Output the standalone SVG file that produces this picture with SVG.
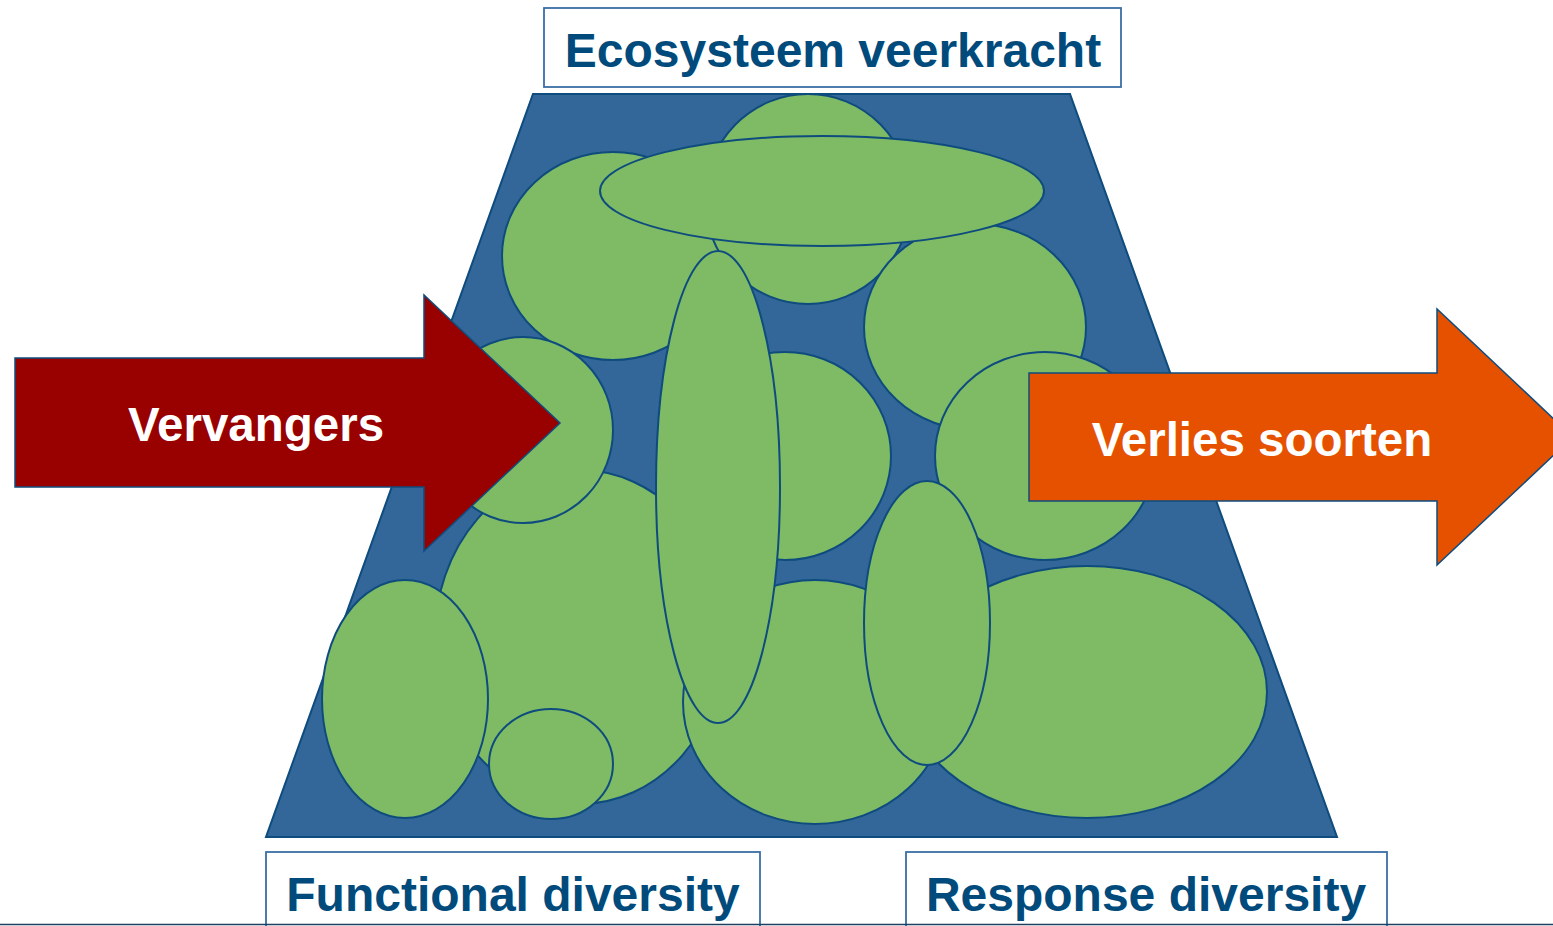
<svg xmlns="http://www.w3.org/2000/svg" width="1553" height="926" viewBox="0 0 1553 926">
<style>
.blob{fill:#7fba65;stroke:#0f4c7e;stroke-width:2}
.lbl{fill:#ffffff;stroke:#3a6ea5;stroke-width:1.8}
.lt{font-family:"Liberation Sans",Arial,sans-serif;font-weight:bold;font-size:48px;fill:#004b7c;text-anchor:middle}
.at{font-family:"Liberation Sans",Arial,sans-serif;font-weight:bold;font-size:47.5px;fill:#ffffff;text-anchor:middle}
</style>
<rect width="1553" height="926" fill="#ffffff"/>
<g id="trapezoid">
<polygon points="533,94 1070,94 1337,837 266,837" fill="#336699" stroke="#0f4c7e" stroke-width="2"/>
</g>
<g id="species">
<ellipse class="blob" cx="613" cy="256" rx="111" ry="104"/>
<ellipse class="blob" cx="808" cy="199" rx="103" ry="105"/>
<ellipse class="blob" cx="975" cy="327" rx="111" ry="103"/>
<ellipse class="blob" cx="822" cy="191" rx="222" ry="55"/>
<ellipse class="blob" cx="785" cy="456" rx="106" ry="104"/>
<ellipse class="blob" cx="1045" cy="456" rx="110" ry="104"/>
<ellipse class="blob" cx="580" cy="637" rx="145" ry="167"/>
<ellipse class="blob" cx="523" cy="430" rx="90" ry="93"/>
<ellipse class="blob" cx="405" cy="699" rx="83" ry="119"/>
<ellipse class="blob" cx="551" cy="764" rx="62" ry="55"/>
<ellipse class="blob" cx="815" cy="702" rx="132" ry="122"/>
<ellipse class="blob" cx="718" cy="487" rx="62" ry="236"/>
<ellipse class="blob" cx="1087" cy="692" rx="180" ry="126"/>
<ellipse class="blob" cx="927" cy="623" rx="63" ry="142"/>
</g>
<g id="vervangers">
<polygon points="15,358 424,358 424,295 560,423 424,551 424,487 15,487" fill="#990000" stroke="#0f4c7e" stroke-width="1.5"/>
<text class="at" x="256" y="441">Vervangers</text>
</g>
<g id="verlies">
<polygon points="1029,373 1437,373 1437,309 1573,437 1437,565 1437,501 1029,501" fill="#e65100" stroke="#0f4c7e" stroke-width="1.5"/>
<text class="at" x="1262" y="456">Verlies soorten</text>
</g>
<g id="ecosysteem">
<rect class="lbl" x="544" y="8" width="577" height="79"/>
<text class="lt" x="833" y="67">Ecosysteem veerkracht</text>
</g>
<g id="functional">
<rect class="lbl" x="266" y="852" width="494" height="80"/>
<text class="lt" x="513" y="911">Functional diversity</text>
</g>
<g id="response">
<rect class="lbl" x="906" y="852" width="481" height="80"/>
<text class="lt" x="1146" y="911">Response diversity</text>
</g>
<g id="connectors">
<line x1="0" y1="924.5" x2="1553" y2="924.5" stroke="#1f3f5f" stroke-width="1.5"/>
</g>
</svg>
